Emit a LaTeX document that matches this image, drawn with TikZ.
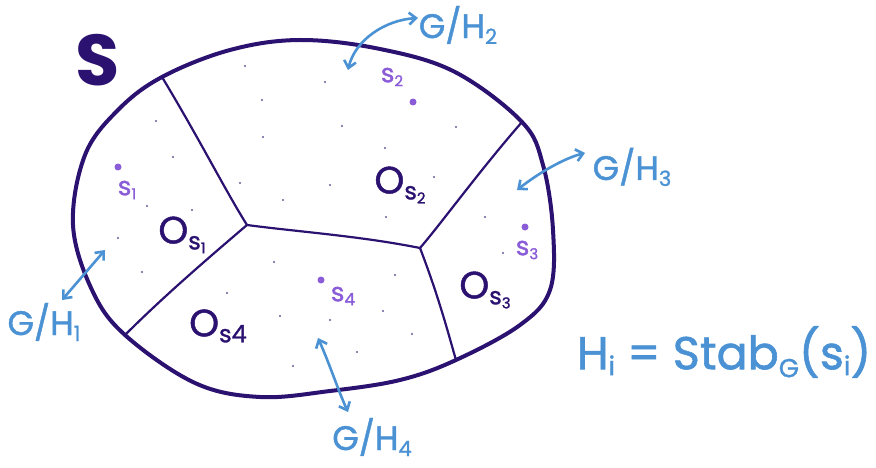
\documentclass[tikz,border=0pt]{standalone}
\usepackage{fontspec}
\setmainfont{Poppins}
\newfontfamily\hand[FakeBold=1.3]{Poppins}
\usetikzlibrary{arrows.meta}
\definecolor{dpurple}{HTML}{2B1170}
\definecolor{lpurple}{HTML}{8A5CD8}
\definecolor{hblue}{HTML}{4A92D4}
\tikzset{
  outline/.style={draw=dpurple,line width=4pt,line join=round},
  inner/.style={draw=dpurple,line width=2.2pt,line cap=round},
  act/.style={draw=hblue,line width=2.6pt,line cap=round,{Straight Barb[length=7pt,width=12pt]}-{Straight Barb[length=7pt,width=12pt]}},
  orb/.style={text=dpurple,font=\hand\fontsize{38}{38}\selectfont,inner sep=0pt},
  pt/.style={text=lpurple,font=\hand\fontsize{26}{26}\selectfont,inner sep=0pt},
  bl/.style={text=hblue,font=\hand\fontsize{34}{34}\selectfont,inner sep=0pt},
  bigdot/.style={fill=lpurple,draw=none,circle,minimum size=7pt,inner sep=0pt},
  speck/.style={fill=dpurple!70,draw=none,circle,minimum size=2.4pt,inner sep=0pt},
}
\begin{document}
\begin{tikzpicture}[x=1pt,y=-1pt]
\useasboundingbox (0,0) rectangle (876,468);
% junction coordinates
\coordinate (jtl) at (162,77);
\coordinate (jtr) at (522,122);
\coordinate (jbr) at (456,360);
\coordinate (jbl) at (125,335);
\coordinate (jc) at (247,225);
\coordinate (jr) at (420,248);
% outer boundary
\draw[outline] plot[smooth cycle,tension=0.6] coordinates {
 (162,77) (230,50) (300,40) (380,49) (455,72) (522,122) (543,165) (553,230)
 (550,290) (520,325) (456,360) (400,380) (330,391) (260,397) (195,383)
 (125,335) (92,290) (73,225) (85,155) (118,110)};
% interior boundaries
\draw[inner] (jtl) .. controls (200,140) and (225,190) .. (jc);
\draw[inner] (jc) .. controls (200,265) and (160,300) .. (jbl);
\draw[inner] (jc) .. controls (300,232) and (360,236) .. (jr);
\draw[inner] (jtr) .. controls (480,170) and (440,225) .. (jr);
\draw[inner] (jr) .. controls (440,300) and (450,340) .. (jbr);
% labels
\node (S) [text=dpurple,font=\bfseries\fontsize{72}{72}\selectfont,inner sep=0pt] at (98,60) {S};
\node (o1) [orb] at (182,235) {O\raisebox{-6pt}{\fontsize{24}{24}\selectfont s\raisebox{-4pt}{\fontsize{15}{15}\selectfont 1}}};
\node (o2) [orb] at (400,185) {O\raisebox{-6pt}{\fontsize{24}{24}\selectfont s\raisebox{-4pt}{\fontsize{15}{15}\selectfont 2}}};
\node (o3) [orb] at (485,290) {O\raisebox{-6pt}{\fontsize{24}{24}\selectfont s\raisebox{-4pt}{\fontsize{15}{15}\selectfont 3}}};
\node (o4) [orb] at (218,326) {O\raisebox{-6pt}{\fontsize{24}{24}\selectfont s4}};
% points
\node (d1) [bigdot] at (118,167) {};
\node (d2) [bigdot] at (413,102) {};
\node (d3) [bigdot] at (525,227) {};
\node (d4) [bigdot] at (321,280) {};
\node (s1) [pt] at (127,190) {s\raisebox{-4pt}{\fontsize{15}{15}\selectfont 1}};
\node (s2) [pt] at (392,77) {s\raisebox{-4pt}{\fontsize{15}{15}\selectfont 2}};
\node (s3) [pt] at (527,250) {s\raisebox{-4pt}{\fontsize{15}{15}\selectfont 3}};
\node (s4) [pt] at (343,296) {s\raisebox{-4pt}{\fontsize{17}{17}\selectfont 4}};
% specks
\foreach \p [count=\i] in {(245,66),(262,100),(263,137),(156,121),(173,157),(147,206),(192,210),(283,200),
  (325,82),(342,126),(456,127),(385,148),(330,185),(434,177),(386,217),(485,217),(118,238),(142,272),
  (227,293),(274,262),(280,316),(395,275),(383,311),(330,320),(412,334),(357,352),(293,366),(503,253),(240,183)}
  \node (sp\i) [speck] at \p {};
% actions
\coordinate (a1s) at (105,250); \coordinate (a1e) at (62,300);
\coordinate (a2s) at (348,70); \coordinate (a2e) at (418,18);
\coordinate (a3s) at (517,190); \coordinate (a3e) at (585,153);
\coordinate (a4s) at (318,338); \coordinate (a4e) at (348,412);
\draw[act] (a1s) -- (a1e);
\draw[act] (a2s) .. controls (355,40) and (385,20) .. (a2e);
\draw[act] (a3s) .. controls (540,172) and (565,158) .. (a3e);
\draw[act] (a4s) .. controls (330,365) and (338,390) .. (a4e);
\node (g1) [bl] at (44,322) {G/H\raisebox{-6pt}{\fontsize{21}{21}\selectfont 1}};
\node (g2) [bl] at (458,25) {G/H\raisebox{-6pt}{\fontsize{21}{21}\selectfont 2}};
\node (g3) [bl] at (632,167) {G/H\raisebox{-6pt}{\fontsize{21}{21}\selectfont 3}};
\node (g4) [bl] at (372,437) {G/H\raisebox{-6pt}{\fontsize{21}{21}\selectfont 4}};
\node (stab) [text=hblue,font=\hand\fontsize{46}{46}\selectfont,inner sep=0pt] at (724,352)
  {H\raisebox{-6pt}{\fontsize{26}{26}\selectfont i} = Stab\raisebox{-8pt}{\fontsize{26}{26}\selectfont G}(s\raisebox{-6pt}{\fontsize{26}{26}\selectfont i})};
\end{tikzpicture}
\end{document}
